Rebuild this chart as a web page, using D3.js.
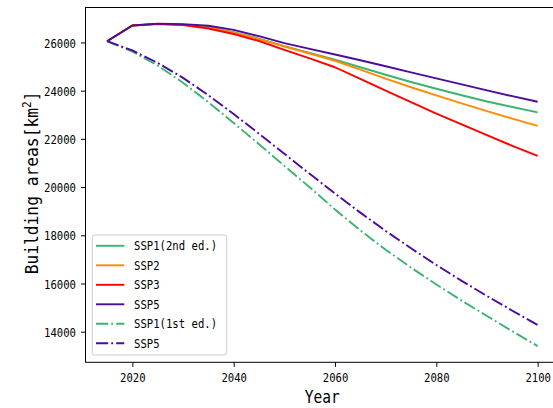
<!DOCTYPE html>
<html>
<head>
<meta charset="utf-8">
<script src="https://cdn.jsdelivr.net/npm/d3@7"></script>
<style>
  html, body { margin: 0; padding: 0; background: #fff; overflow: hidden; }
  svg { display: block; }
</style>
</head>
<body>
<svg id="chart" width="553" height="408"></svg>
<script>
// ---- data ----
const years = [2015, 2020, 2025, 2030, 2035, 2040, 2045, 2050, 2055, 2060, 2065, 2070, 2075, 2080, 2085, 2090, 2095, 2100];
const ssp1_2nd = [26050, 26700, 26770, 26740, 26640, 26430, 26160, 25850, 25570, 25290, 24970, 24660, 24360, 24080, 23810, 23550, 23320, 23100];
const ssp2     = [26050, 26700, 26770, 26730, 26620, 26410, 26140, 25830, 25540, 25240, 24870, 24500, 24140, 23800, 23470, 23150, 22840, 22540];
const ssp3     = [26050, 26700, 26760, 26720, 26580, 26350, 26060, 25690, 25340, 24970, 24490, 24000, 23520, 23050, 22600, 22150, 21710, 21290];
const ssp5     = [26050, 26700, 26780, 26760, 26690, 26520, 26260, 25970, 25730, 25500, 25260, 25010, 24760, 24510, 24260, 24010, 23770, 23540];
const ssp1_1st = [26050, 25620, 25040, 24330, 23520, 22660, 21780, 20880, 19990, 19070, 18200, 17400, 16660, 15960, 15290, 14650, 14020, 13400];
const ssp5_1st = [26050, 25670, 25150, 24530, 23810, 23030, 22210, 21380, 20550, 19730, 18940, 18180, 17460, 16770, 16110, 15480, 14870, 14280];

const seriesNames = ["SSP1(2nd ed.)", "SSP2", "SSP3", "SSP5", "SSP1(1st ed.)", "SSP5"];
const seriesValues = [ssp1_2nd, ssp2, ssp3, ssp5, ssp1_1st, ssp5_1st];
const seriesColors = ["#3CB371", "#FF8C00", "#FF0000", "#4B0C9E", "#3CB371", "#4B0C9E"];
const seriesDashed = [false, false, false, false, true, true];

const xTicks = [2020, 2040, 2060, 2080, 2100];
const yTicks = [14000, 16000, 18000, 20000, 22000, 24000, 26000];
const xLabel = "Year";
const yLabelMain = "Building areas[km";
const yLabelSup = "2";
const yLabelEnd = "]";

// ---- layout ----
const svg = d3.select("#chart");
const pL = 85.5, pR = 559.2, pT = 7.5, pB = 362.3;
const MONO = "'DejaVu Sans Mono', 'Liberation Mono', monospace";
const SX = 0.83;

const xMin = d3.min(years), xMax = d3.max(years);
const xPad = (xMax - xMin) * 0.05;
const allVals = seriesValues.flat();
const yMin = d3.min(allVals), yMax = d3.max(allVals);
const yPad = (yMax - yMin) * 0.05;

const x = d3.scaleLinear().domain([xMin - xPad, xMax + xPad]).range([pL, pR]);
const y = d3.scaleLinear().domain([yMin - yPad, yMax + yPad]).range([pB, pT]);

function monoText(parent, tx, ty, str, size, anchor, rot) {
  return parent.append("text")
    .attr("transform", `translate(${tx},${ty}) rotate(${rot || 0}) scale(${SX},1)`)
    .attr("text-anchor", anchor || "start")
    .attr("font-family", MONO)
    .attr("font-size", size)
    .attr("fill", "#000")
    .text(str);
}

// lines
const clipId = "plotclip";
svg.append("defs").append("clipPath").attr("id", clipId)
  .append("rect").attr("x", pL).attr("y", pT).attr("width", pR - pL).attr("height", pB - pT);

const line = d3.line().x((d, i) => x(years[i])).y(d => y(d));
const plot = svg.append("g").attr("clip-path", `url(#${clipId})`);
seriesValues.forEach((vals, i) => {
  plot.append("path")
    .datum(vals)
    .attr("d", line)
    .attr("fill", "none")
    .attr("stroke", seriesColors[i])
    .attr("stroke-width", 1.9)
    .attr("stroke-linejoin", "round")
    .attr("stroke-dasharray", seriesDashed[i] ? "12.2,3.05,1.9,3.05" : null);
});

// axes
const xAxis = d3.axisBottom(x).tickValues(xTicks).tickSize(4.5).tickPadding(4.5).tickFormat(d3.format("d"));
const yAxis = d3.axisLeft(y).tickValues(yTicks).tickSize(4.5).tickPadding(4.5).tickFormat(d3.format("d"));

const gx = svg.append("g").attr("transform", `translate(0,${pB})`).call(xAxis);
const gy = svg.append("g").attr("transform", `translate(${pL},0)`).call(yAxis);
[gx, gy].forEach(g => {
  g.select(".domain").remove();
  g.selectAll(".tick line").attr("stroke", "#000").attr("stroke-width", 1);
  g.selectAll(".tick text").remove();
});
gx.selectAll(".tick").each(function(d) {
  monoText(d3.select(this), 0, 19.5, d3.format("d")(d), 12.8, "middle");
});
gy.selectAll(".tick").each(function(d) {
  const t = monoText(d3.select(this), -9.5, 0, d3.format("d")(d), 12.8, "end");
  t.attr("dy", "0.36em");
});

// spines
svg.append("rect")
  .attr("x", pL).attr("y", pT)
  .attr("width", pR - pL).attr("height", pB - pT)
  .attr("fill", "none").attr("stroke", "#000").attr("stroke-width", 1);

// axis labels
monoText(svg, (pL + pR) / 2, 403, xLabel, 17.5, "middle");
const yl = svg.append("text")
  .attr("transform", `translate(38,${(pT + pB) / 2 - 2}) rotate(-90) scale(0.93,1)`)
  .attr("text-anchor", "middle")
  .attr("font-family", MONO)
  .attr("font-size", 17.5)
  .attr("fill", "#000");
yl.append("tspan").text(yLabelMain);
yl.append("tspan").attr("font-size", 12).attr("dy", -7).text(yLabelSup);
yl.append("tspan").attr("dy", 7).text(yLabelEnd);

// legend
const lgX = 92.3, lgY = 235, lgW = 134.4, lgH = 120, rowH = 19.5;
const lg = svg.append("g");
lg.append("rect")
  .attr("x", lgX).attr("y", lgY).attr("width", lgW).attr("height", lgH)
  .attr("rx", 2.5).attr("ry", 2.5)
  .attr("fill", "#fff").attr("fill-opacity", 0.8)
  .attr("stroke", "#cccccc").attr("stroke-width", 1);
seriesNames.forEach((name, i) => {
  const cy = lgY + 10.8 + i * rowH;
  lg.append("line")
    .attr("x1", 96).attr("x2", 124.3).attr("y1", cy).attr("y2", cy)
    .attr("stroke", seriesColors[i]).attr("stroke-width", 1.9)
    .attr("stroke-dasharray", seriesDashed[i] ? "12.2,3.05,1.9,3.05" : null);
  monoText(lg, 134, cy, name, 12.8, "start").attr("dy", "0.36em");
});
</script>
</body>
</html>
